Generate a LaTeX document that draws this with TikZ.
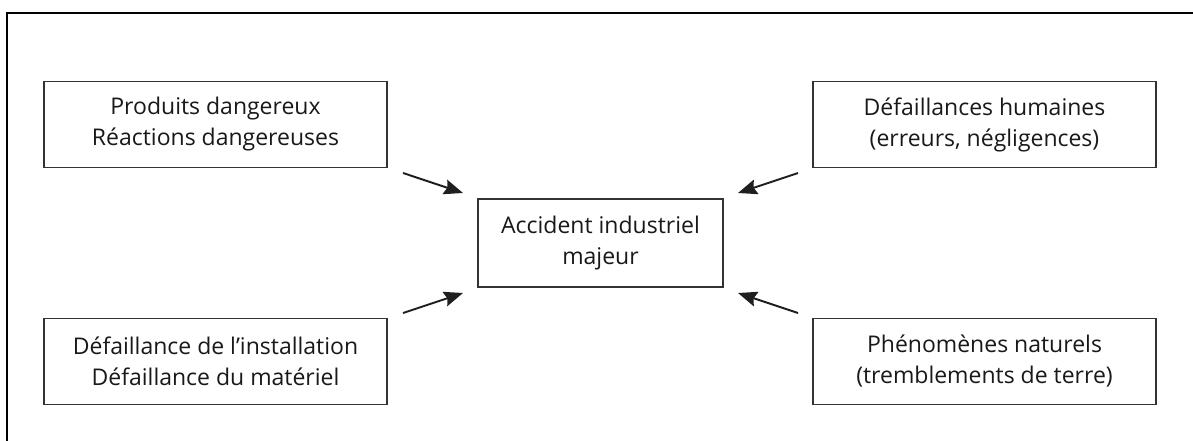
\documentclass[tikz,border=0pt]{standalone}
\usepackage{fontspec}
\setmainfont{Open Sans}
\usetikzlibrary{arrows.meta}
\begin{document}
\begin{tikzpicture}[x=1pt,y=-1pt,
  box/.style={draw=black!80, line width=1.7pt, fill=white, align=center,
    inner sep=0pt, text=black!90, font=\fontsize{23}{31}\selectfont},
  cause/.style={box, minimum width=343pt, minimum height=86pt},
  arr/.style={line width=1.9pt, draw=black!88,
    -{Stealth[length=19pt,width=15pt,inset=2.5pt]}}]
\useasboundingbox (0,0) rectangle (1193,441);
% open frame: only top and left edges
\draw[line width=2pt] (7,441) -- (7,13) -- (1193,13);

\node[cause] (tl) at (215.5,124.5) {Produits dangereux\\Réactions dangereuses};
\node[cause] (tr) at (984.5,124.5) {Défaillances humaines\\(erreurs, négligences)};
\node[cause] (bl) at (215.5,361.5) {Défaillance de l’installation\\Défaillance du matériel};
\node[cause] (br) at (984.5,361.5) {Phénomènes naturels\\(tremblements de terre)};
\node[box, minimum width=245pt, minimum height=88pt] (c) at (600.5,243) {Accident industriel\\majeur};

% arrow ends
\coordinate (tlA) at (403,173);
\coordinate (tlB) at (463,193);
\coordinate (trA) at (798,173);
\coordinate (trB) at (738,193);
\coordinate (blA) at (403,313);
\coordinate (blB) at (463,293);
\coordinate (brA) at (798,313);
\coordinate (brB) at (738,293);

\draw[arr] (tlA) -- (tlB);
\draw[arr] (trA) -- (trB);
\draw[arr] (blA) -- (blB);
\draw[arr] (brA) -- (brB);
\end{tikzpicture}
\end{document}
